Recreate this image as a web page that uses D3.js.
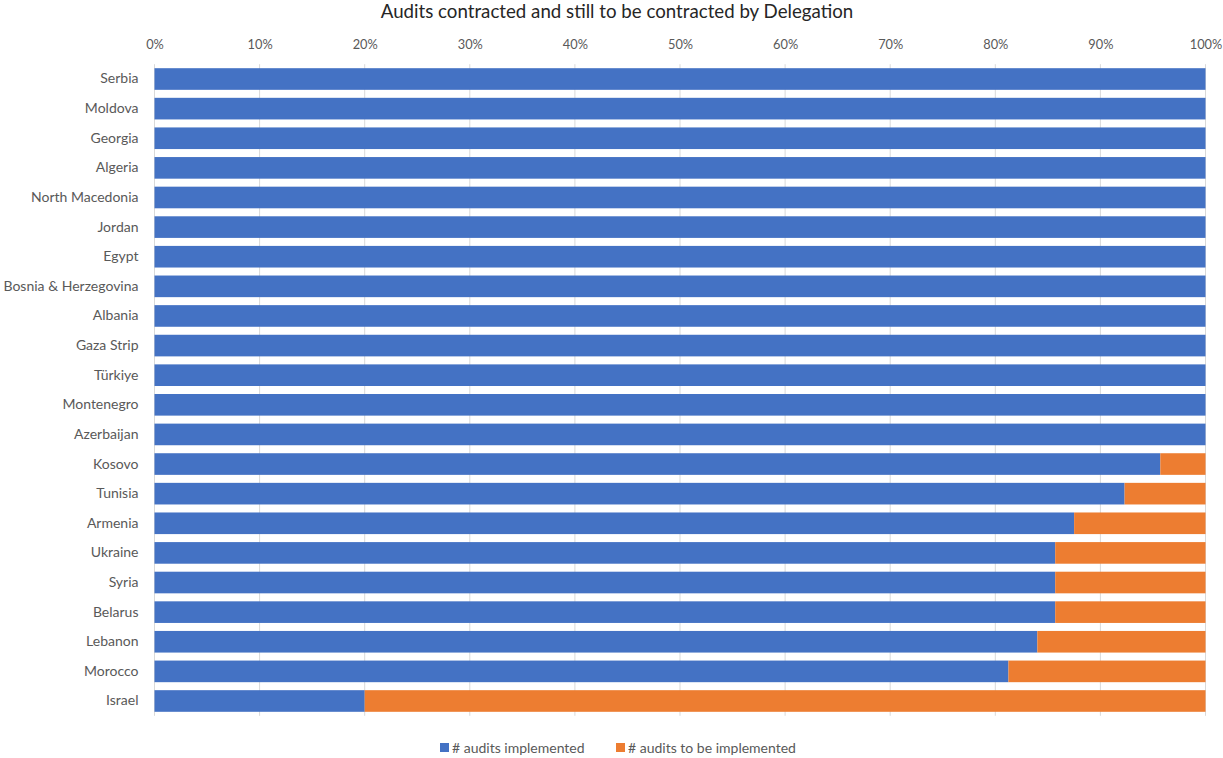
<!DOCTYPE html>
<html>
<head>
<meta charset="utf-8">
<script src="https://cdn.jsdelivr.net/npm/d3@7/dist/d3.min.js"></script>
<style>
  html, body { margin: 0; padding: 0; background: #fff; }
  svg { display: block; font-family: Lato, sans-serif; }
</style>
</head>
<body>
<svg id="chart" width="1223" height="758"></svg>
<script>
// Delegations, top to bottom
const delegations = [
  "Serbia", "Moldova", "Georgia", "Algeria", "North Macedonia", "Jordan", "Egypt",
  "Bosnia & Herzegovina", "Albania", "Gaza Strip", "Türkiye", "Montenegro", "Azerbaijan",
  "Kosovo", "Tunisia", "Armenia", "Ukraine", "Syria", "Belarus", "Lebanon", "Morocco", "Israel"
];
// Share of audits implemented (%)
const implemented = [
  100, 100, 100, 100, 100, 100, 100,
  100, 100, 100, 100, 100, 100,
  95.7, 92.3, 87.5, 85.7, 85.7, 85.7, 84.0, 81.25, 20
];
// Share of audits still to be implemented (%)
const toBeImplemented = [
  0, 0, 0, 0, 0, 0, 0,
  0, 0, 0, 0, 0, 0,
  4.3, 7.7, 12.5, 14.3, 14.3, 14.3, 16.0, 18.75, 80
];
const seriesNames = ["# audits implemented", "# audits to be implemented"];
const seriesColors = ["#4472C4", "#ED7D31"];
const tickValues = [0, 10, 20, 30, 40, 50, 60, 70, 80, 90, 100];

const svg = d3.select("#chart");
const margin = { left: 154.5, right: 17.5, top: 64.2, bottom: 42.2 };
const W = 1223, H = 758;
const FONT = "Lato, sans-serif";

const x = d3.scaleLinear().domain([0, 100]).range([margin.left, W - margin.right]);
const y = d3.scaleBand().domain(delegations).range([margin.top, H - margin.bottom]).paddingInner(0.27).paddingOuter(0.135);

// Title
svg.append("text")
  .attr("x", 617).attr("y", 18)
  .attr("text-anchor", "middle")
  .attr("font-family", FONT)
  .attr("font-size", 18.7).attr("fill", "#262626")
  .text("Audits contracted and still to be contracted by Delegation");

// Vertical gridlines
svg.append("g").selectAll("line").data(tickValues).join("line")
  .attr("x1", d => x(d)).attr("x2", d => x(d))
  .attr("y1", margin.top).attr("y2", H - margin.bottom)
  .attr("stroke", "#D9D9D9").attr("stroke-width", 1);

// Top axis
const xAxis = d3.axisTop(x).tickValues(tickValues).tickFormat(d => d + "%").tickSize(0).tickPadding(0);
const gx = svg.append("g").attr("transform", `translate(0,${49})`).call(xAxis);
gx.select(".domain").remove();
gx.selectAll("text").attr("font-size", 12.8).attr("fill", "#595959").attr("font-family", FONT);

// Category axis
const yAxis = d3.axisLeft(y).tickSize(0).tickPadding(16);
const gy = svg.append("g").attr("transform", `translate(${margin.left},0)`).call(yAxis);
gy.select(".domain").remove();
gy.selectAll("text").attr("font-size", 14).attr("fill", "#595959").attr("font-family", FONT);

// Stacked bars
const rows = delegations.map((d, i) => ({ name: d, a: implemented[i], b: toBeImplemented[i] }));
const stack = d3.stack().keys(["a", "b"]);
const layers = stack(rows);

svg.append("g").selectAll("g").data(layers).join("g")
  .attr("fill", (d, i) => seriesColors[i])
  .selectAll("rect").data(d => d).join("rect")
  .attr("x", d => x(d[0]))
  .attr("y", d => y(d.data.name))
  .attr("width", d => Math.max(0, x(d[1]) - x(d[0])))
  .attr("height", y.bandwidth());

// Legend
const legend = svg.append("g").attr("font-size", 14).attr("font-family", FONT);
const legendX = [440, 616];
seriesNames.forEach((name, i) => {
  legend.append("rect").attr("x", legendX[i]).attr("y", 743).attr("width", 9).attr("height", 9).attr("fill", seriesColors[i]);
  legend.append("text").attr("x", legendX[i] + 12).attr("y", 753).attr("fill", "#595959").text(name);
});
</script>
</body>
</html>
